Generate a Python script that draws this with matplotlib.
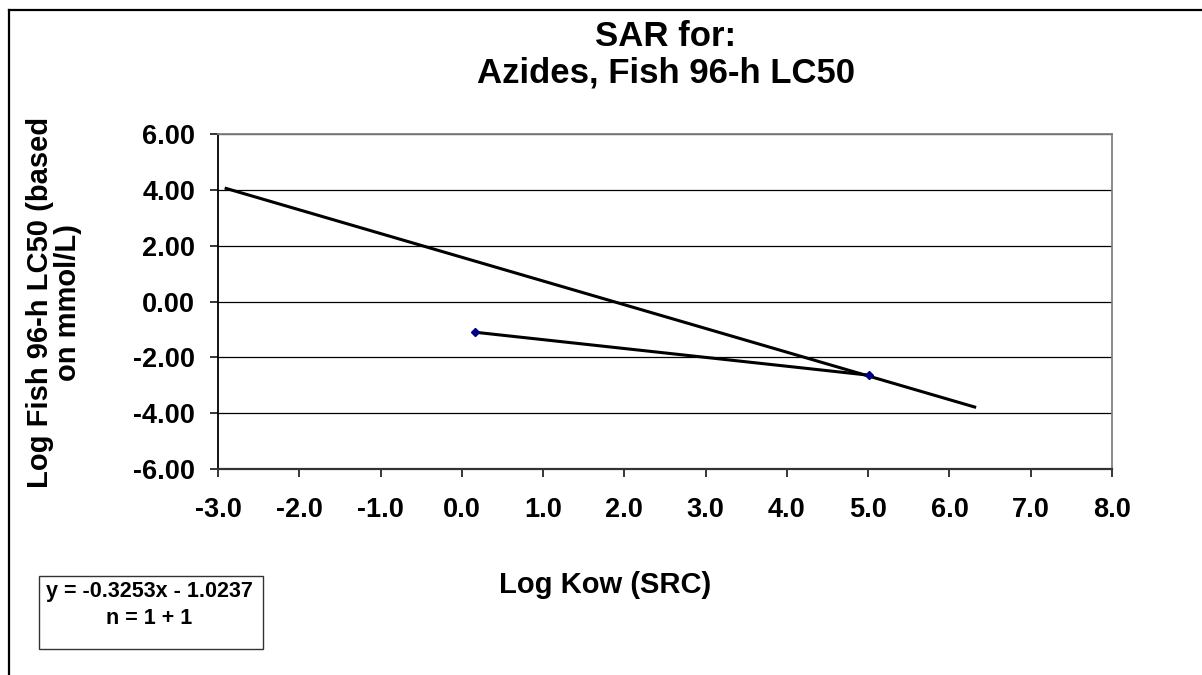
import matplotlib
matplotlib.use("Agg")
import matplotlib.pyplot as plt
from matplotlib.lines import Line2D
from matplotlib.patches import Rectangle

plt.rcParams['font.family'] = ['Liberation Sans', 'DejaVu Sans']
plt.rcParams['font.weight'] = 'bold'

# measured data points (Log Kow, Log LC50)
data_x = [0.16, 5.01]
data_y = [-1.10, -2.64]

# SAR line end points
sar_x = [-2.90, 6.31]
sar_y = [4.05, -3.78]

x_ticks = [-3.0, -2.0, -1.0, 0.0, 1.0, 2.0, 3.0, 4.0, 5.0, 6.0, 7.0, 8.0]
y_ticks = [-6.0, -4.0, -2.0, 0.0, 2.0, 4.0, 6.0]

W, H = 1202, 675
fig = plt.figure(figsize=(W / 100, H / 100), dpi=100)
ax = fig.add_axes([218 / W, 1 - 469 / H, (1112 - 218) / W, (469 - 134) / H])

# outer chart border (only top and left visible)
fig.add_artist(Line2D([9 / W, 9 / W], [0, 1 - 10 / H], color='black', lw=1.6,
                      transform=fig.transFigure))
fig.add_artist(Line2D([9 / W, 1], [1 - 10 / H, 1 - 10 / H], color='black', lw=1.6,
                      transform=fig.transFigure))

ax.plot(sar_x, sar_y, color='black', lw=2.2, zorder=3)
ax.plot(data_x, data_y, color='black', lw=2.2, marker='D', markersize=4,
        markerfacecolor='#000080', markeredgecolor='#000080', zorder=4)

ax.set_xlim(-3, 8)
ax.set_ylim(-6, 6)
ax.set_xticks(x_ticks)
ax.set_xticklabels([f'{v:.1f}' for v in x_ticks])
ax.set_yticks(y_ticks)
ax.set_yticklabels([f'{v:.2f}' for v in y_ticks])
ax.yaxis.grid(True, color='black', lw=0.9)
ax.set_axisbelow(True)
ax.tick_params(direction='out', length=6, width=1.1, labelsize=19.5)
ax.tick_params(axis='x', pad=14)
ax.tick_params(axis='y', pad=10.5)
for lab in ax.get_xticklabels() + ax.get_yticklabels():
    lab.set_fontweight('bold')

ax.spines['left'].set_color('black')
ax.spines['left'].set_linewidth(1.3)
ax.spines['bottom'].set_color('#333333')
ax.spines['bottom'].set_linewidth(1.6)
ax.spines['top'].set_color('#808080')
ax.spines['top'].set_linewidth(1.3)
ax.spines['right'].set_color('#808080')
ax.spines['right'].set_linewidth(1.3)

fig.text(666 / W, 1 - 37 / H, 'SAR for:', ha='center', va='center',
         fontsize=25, fontweight='bold')
fig.text(666 / W, 1 - 73 / H, 'Azides, Fish 96-h LC50', ha='center', va='center',
         fontsize=25, fontweight='bold')

fig.text(605 / W, 1 - 585 / H, 'Log Kow (SRC)', ha='center', va='center',
         fontsize=21, fontweight='bold')
fig.text(54 / W, 1 - 302 / H, 'Log Fish 96-h LC50 (based\non mmol/L)', ha='center',
         va='center', rotation=90, fontsize=21, fontweight='bold', linespacing=1.0)

fig.add_artist(Rectangle((39 / W, 1 - 649 / H), (263 - 39) / W, (649 - 576) / H,
                         transform=fig.transFigure, facecolor='white',
                         edgecolor='#333333', lw=1.0))
fig.text(149 / W, 1 - 591 / H, 'y = -0.3253x - 1.0237', ha='center', va='center',
         fontsize=15.5, fontweight='bold')
fig.text(149 / W, 1 - 618 / H, 'n = 1 + 1', ha='center', va='center',
         fontsize=15.5, fontweight='bold')

fig.savefig('out.png', dpi=100)
